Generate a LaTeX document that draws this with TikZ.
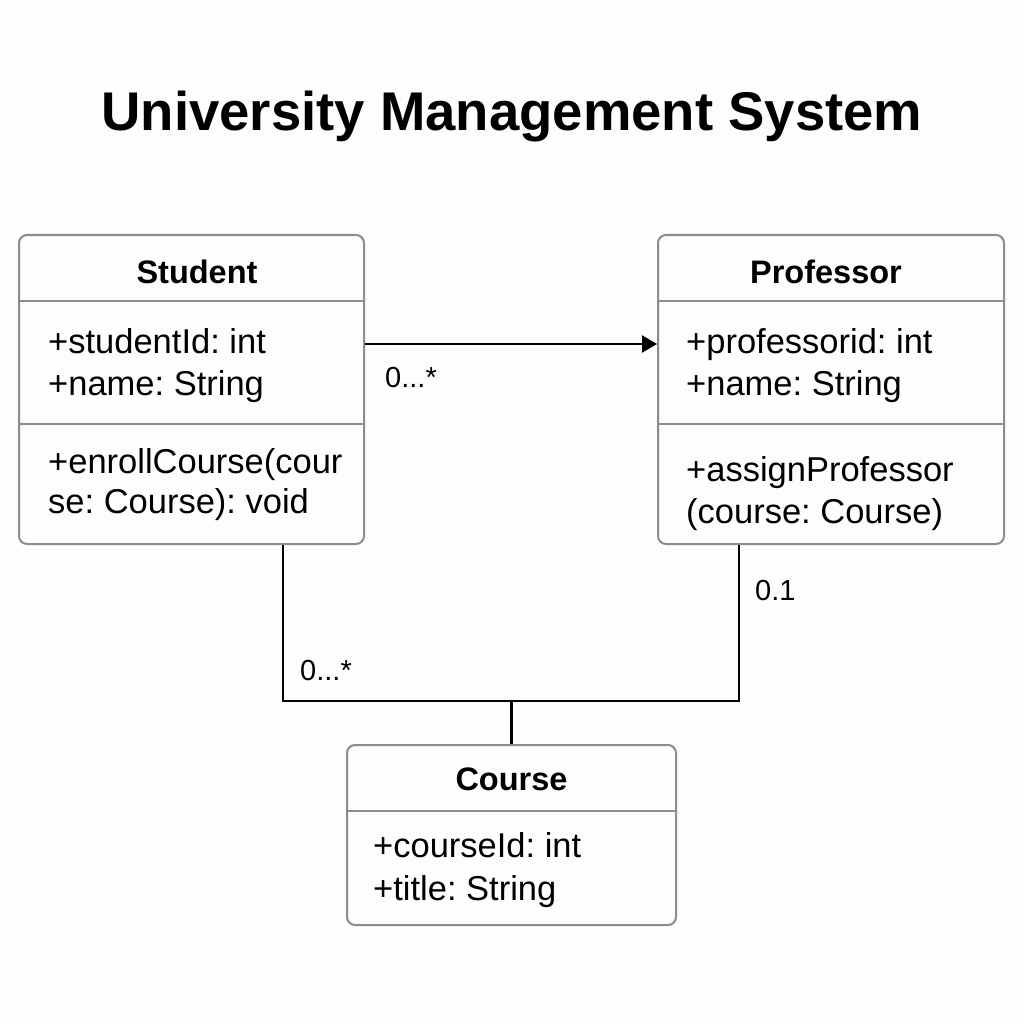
\documentclass[tikz,border=0pt]{standalone}
\usepackage{fontspec}
\setmainfont{Liberation Sans}
\usetikzlibrary{arrows.meta}
\definecolor{paper}{HTML}{FDFDFB}
\definecolor{boxline}{HTML}{8C8C8C}
\frenchspacing

\begin{document}
\begin{tikzpicture}[x=1pt, y=-1pt,
    classbox/.style={draw=boxline, line width=2pt, rounded corners=8pt, fill=paper, inner sep=0pt},
    divider/.style={draw=boxline, line width=2pt},
    head/.style={anchor=base, inner sep=0pt, font=\fontsize{32.5}{39}\selectfont\bfseries},
    member/.style={anchor=base west, inner sep=0pt, font=\fontsize{34.5}{41}\selectfont},
    mult/.style={anchor=base west, inner sep=0pt, font=\fontsize{29}{35}\selectfont},
    link/.style={line width=2.2pt, black}]
    \fill[paper] (0,0) rectangle (1024,1024);
    \useasboundingbox (0,0) rectangle (1024,1024);
    \node[anchor=base, inner sep=0pt, font=\fontsize{54.5}{64}\selectfont\bfseries] (title) at (512,131) {University Management System};

    % classes
    \node[classbox, minimum width=345pt, minimum height=309pt] (student) at (191.5,389.5) {};
    \node[classbox, minimum width=346pt, minimum height=309pt] (professor) at (831,389.5) {};
    \node[classbox, minimum width=329pt, minimum height=180pt] (course) at (511.5,835) {};
    \draw[divider] ([yshift=-67pt]student.north west) -- ([yshift=-67pt]student.north east);
    \draw[divider] ([yshift=-190pt]student.north west) -- ([yshift=-190pt]student.north east);
    \draw[divider] ([yshift=-67pt]professor.north west) -- ([yshift=-67pt]professor.north east);
    \draw[divider] ([yshift=-190pt]professor.north west) -- ([yshift=-190pt]professor.north east);
    \draw[divider] ([yshift=-67pt]course.north west) -- ([yshift=-67pt]course.north east);

    \node[head] (studenthead) at (197,283) {Student};
    \node[member] (studentid) at (48,353) {+studentId: int};
    \node[member] (studentname) at (48,395) {+name: String};
    \node[member] (enroll1) at (48,473) {+enrollCourse(cour};
    \node[member] (enroll2) at (48,513) {se: Course): void};

    \node[head] (professorhead) at (826,283) {Professor};
    \node[member] (professorid) at (686,353) {+professorid: int};
    \node[member] (professorname) at (686,395) {+name: String};
    \node[member] (assign1) at (686,481) {+assignProfessor};
    \node[member] (assign2) at (686,523) {(course: Course)};

    \node[head] (coursehead) at (511.5,790) {Course};
    \node[member] (courseid) at (373,857) {+courseId: int};
    \node[member] (coursetitle) at (373,900) {+title: String};

    % associations
    \draw[link, -{Triangle[length=15pt, width=17pt]}] ([yshift=-110pt]student.north east) -- ([yshift=-110pt]professor.north west);
    \coordinate (split) at ([yshift=43pt]course.north);
    \draw[link] ([xshift=265pt]student.south west) |- (split) -| ([xshift=82pt]professor.south west);
    \draw[link] (split) -- (course.north);

    \node[mult] (m1) at (385,387) {0...*};
    \node[mult] (m2) at (300,680) {0...*};
    \node[mult] (m3) at (755,600) {0.1};
\end{tikzpicture}
\end{document}
